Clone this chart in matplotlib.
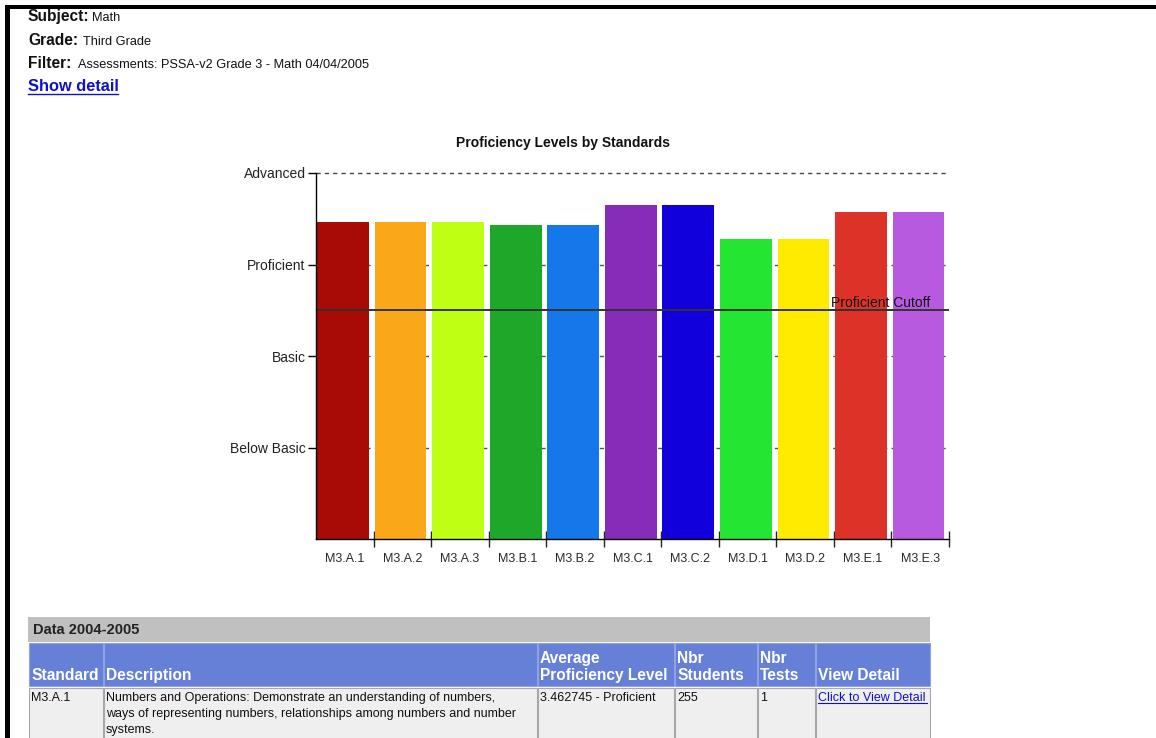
import matplotlib
matplotlib.use('Agg')
import matplotlib.pyplot as plt
from matplotlib.patches import Rectangle

plt.rcParams['font.family'] = ['Liberation Sans', 'DejaVu Sans']

# ---------------- data ----------------
standards = ['M3.A.1', 'M3.A.2', 'M3.A.3', 'M3.B.1', 'M3.B.2', 'M3.C.1',
             'M3.C.2', 'M3.D.1', 'M3.D.2', 'M3.E.1', 'M3.E.3']
avg_levels = [3.46, 3.46, 3.46, 3.43, 3.43, 3.65, 3.65, 3.28, 3.28, 3.57, 3.57]
bar_colors = ['#A80A05', '#FAA819', '#BEFF14', '#1EA82A', '#1478EA', '#862CB8',
              '#1200DC', '#24E632', '#FFEB00', '#DC3228', '#B85AE0']
level_names = ['Below Basic', 'Basic', 'Proficient', 'Advanced']
level_values = [1, 2, 3, 4]
cutoff_value = 2.5
cutoff_label = 'Proficient Cutoff'
chart_title = 'Proficiency Levels by Standards'

header_labels = ['Subject:', 'Grade:', 'Filter:']
header_values = ['Math', 'Third Grade', 'Assessments: PSSA-v2 Grade 3 - Math 04/04/2005']
link_text = 'Show detail'

table_title = 'Data 2004-2005'
table_columns = ['Standard', 'Description', 'Average\nProficiency Level',
                 'Nbr\nStudents', 'Nbr\nTests', 'View Detail']
row_values = ['M3.A.1',
              'Numbers and Operations: Demonstrate an understanding of numbers,\n'
              'ways of representing numbers, relationships among numbers and number\n'
              'systems.',
              '3.462745 - Proficient', '255', '1', 'Click to View Detail']

# ---------------- figure ----------------
W, H = 1156, 738
fig = plt.figure(figsize=(W / 100, H / 100), dpi=100)
fig.patch.set_facecolor('white')

bg = fig.add_axes([0, 0, 1, 1])
bg.set_xlim(0, W)
bg.set_ylim(H, 0)
bg.axis('off')

# page border
bg.add_patch(Rectangle((5, 5), W - 5, 4, color='black', lw=0))
bg.add_patch(Rectangle((5, 5), 5, H - 5, color='black', lw=0))

# header block
hdr_base = [21, 45, 68]
val_x = [92, 83, 78]
for lab, val, y, vx in zip(header_labels, header_values, hdr_base, val_x):
    bg.text(28, y, lab, fontsize=11.2, fontweight='bold', va='baseline', ha='left', color='#111111')
    bg.text(vx, y, val, fontsize=9.2, va='baseline', ha='left', color='#111111')
link_col = '#1010C8'
bg.text(28, 91, link_text, fontsize=11.8, fontweight='bold', va='baseline', ha='left', color=link_col)
bg.plot([28, 118], [94, 94], color=link_col, lw=1)

# chart title
bg.text(563, 143, chart_title, fontsize=10, fontweight='bold', ha='center', va='center', color='#111111')

# ---------------- chart ----------------
ax = fig.add_axes([316 / W, (H - 539) / H, 633 / W, 366 / H])
ax.patch.set_alpha(0)
x = list(range(len(standards)))
ax.set_xlim(-0.5, len(standards) - 0.5)
ax.set_ylim(0, 4)

dash = (0, (3, 3))
for v in level_values[:-1]:
    ax.axhline(v, ls=dash, color='#555555', lw=1, zorder=0)
ax.axhline(level_values[-1], ls=dash, color='#444444', lw=1, zorder=3, clip_on=False)

ax.bar([i - 0.03 for i in x], avg_levels, width=0.9, color=bar_colors, zorder=2, lw=0)

ax.axhline(cutoff_value, color='#333333', lw=1.4, zorder=4)
ax.text(10.17, cutoff_value + 0.035, cutoff_label, ha='right', va='baseline',
        fontsize=10, color='#111111', zorder=5)

for s in ['top', 'right']:
    ax.spines[s].set_visible(False)
for s in ['left', 'bottom']:
    ax.spines[s].set_color('black')
    ax.spines[s].set_linewidth(1)
    ax.spines[s].set_zorder(6)

ax.set_yticks(level_values)
ax.set_yticklabels(level_names, fontsize=10, color='#222222')
ax.tick_params(axis='y', length=6, width=1, direction='out', pad=1.5, colors='black', labelcolor='#222222')

ax.set_xticks(x)
ax.set_xticklabels(standards, fontsize=9, color='#333333')
ax.set_xticks([i + 0.5 for i in x], minor=True)
ax.tick_params(axis='x', which='major', length=0, pad=10, labelcolor='#2A2A2A')
ax.tick_params(axis='x', which='minor', length=11.5, width=1, direction='inout', colors='#222222')

# ---------------- table ----------------
bg.add_patch(Rectangle((28, 617), 902, 25, color='#C0C0C0', lw=0))
bg.text(33, 630, table_title, fontsize=10.5, fontweight='bold', va='center', ha='left', color='#222222')

col_edges = [28, 103, 537, 674, 757, 815, 930]
head_col = '#6680D8'
for i in range(len(table_columns)):
    x0, x1 = col_edges[i], col_edges[i + 1]
    bg.add_patch(Rectangle((x0 + 0.5, 643), x1 - x0 - 1, 43, facecolor=head_col,
                           edgecolor='#8FA2E2', lw=0.8))
    bg.add_patch(Rectangle((x0 + 0.5, 688), x1 - x0 - 1, 60, facecolor='#EFEFEF',
                           edgecolor='#A8A8A8', lw=0.8))

for i, lab in enumerate(table_columns):
    lines = lab.split('\n')
    tx = col_edges[i] + 3
    if len(lines) == 2:
        bg.text(tx, 663, lines[0], fontsize=11.2, fontweight='bold', color='white',
                va='baseline', ha='left')
        bg.text(tx, 680, lines[1], fontsize=11.2, fontweight='bold', color='white',
                va='baseline', ha='left')
    else:
        bg.text(tx, 680, lab, fontsize=11.2, fontweight='bold', color='white',
                va='baseline', ha='left')

for i, val in enumerate(row_values):
    tx = col_edges[i] + 3
    color = link_col if i == len(row_values) - 1 else '#111111'
    for j, line in enumerate(val.split('\n')):
        bg.text(tx, 701 + 16 * j, line, fontsize=9, color=color, va='baseline', ha='left')
    if i == len(row_values) - 1:
        bg.plot([tx, 927], [703, 703], color=link_col, lw=0.8)

fig.savefig('out.png', dpi=100, facecolor='white')
